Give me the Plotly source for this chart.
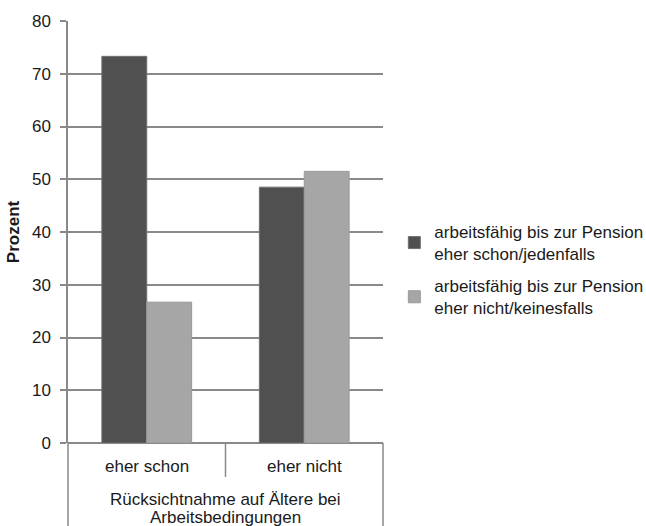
import plotly.graph_objects as go

categories = ["eher schon", "eher nicht"]
series_names = ["arbeitsfähig bis zur Pension<br>eher schon/jedenfalls",
                "arbeitsfähig bis zur Pension<br>eher nicht/keinesfalls"]
values_schon = [73.3, 48.5]
values_nicht = [26.7, 51.5]
y_ticks = [0, 10, 20, 30, 40, 50, 60, 70, 80]
group_title = ["Rücksichtnahme auf Ältere bei", "Arbeitsbedingungen"]

FONT = "Liberation Sans, Arial, sans-serif"
GRID = "#898989"
FS = 17

fig = go.Figure()
fig.add_trace(go.Bar(x=categories, y=values_schon, name=series_names[0], legendgroup="a",
                     marker=dict(color="#505050", line=dict(color="#707070", width=1))))
fig.add_trace(go.Bar(x=categories, y=values_nicht, name=series_names[1], legendgroup="b",
                     marker=dict(color="#a6a6a6", line=dict(color="#999999", width=1))))

fig.update_layout(
    width=646, height=526,
    margin=dict(l=68, r=263, t=21, b=83, autoexpand=False),
    paper_bgcolor="white", plot_bgcolor="white",
    font=dict(family=FONT, size=FS, color="#1a1a1a"),
    barmode="group", bargap=0.43, bargroupgap=0,
    showlegend=True,
    legend=dict(x=1.036, y=0.41, xanchor="left", yanchor="middle",
                font=dict(size=FS), itemwidth=30, tracegroupgap=7,
                bgcolor="rgba(0,0,0,0)"),
)
fig.update_xaxes(showticklabels=False, ticks="", showgrid=False,
                 showline=False, range=[-0.5, 1.5], fixedrange=True)
fig.update_yaxes(range=[0, 80], tickvals=y_ticks, showgrid=True, gridcolor=GRID,
                 gridwidth=1.5, showline=True, linecolor=GRID, linewidth=1.5,
                 ticks="outside", ticklen=6, tickcolor=GRID, tickwidth=1.5,
                 zeroline=True, zerolinecolor=GRID, zerolinewidth=1.5,
                 ticklabelstandoff=6,
                 title=dict(text="<b>Prozent</b>", font=dict(size=FS), standoff=8))

# category labels
for c in categories:
    fig.add_annotation(x=c, y=0, xref="x", yref="y", text=c, showarrow=False,
                       yanchor="middle", yshift=-23, font=dict(size=FS))
fig.add_annotation(x=0.5, y=0, xref="paper", yref="y", text=group_title[0],
                   showarrow=False, yanchor="middle", yshift=-56, font=dict(size=FS))
fig.add_annotation(x=0.5, y=0, xref="paper", yref="y", text=group_title[1],
                   showarrow=False, yanchor="middle", yshift=-74, font=dict(size=FS))

# table-like borders below axis
ph = 526 - 21 - 83
for xp, depth in [(0, 83), (1, 83), (0.5, 34)]:
    fig.add_shape(type="line", xref="paper", yref="paper", x0=xp, x1=xp,
                  y0=0, y1=-depth / ph, line=dict(color=GRID, width=1.5))

fig.write_html("out.html")
